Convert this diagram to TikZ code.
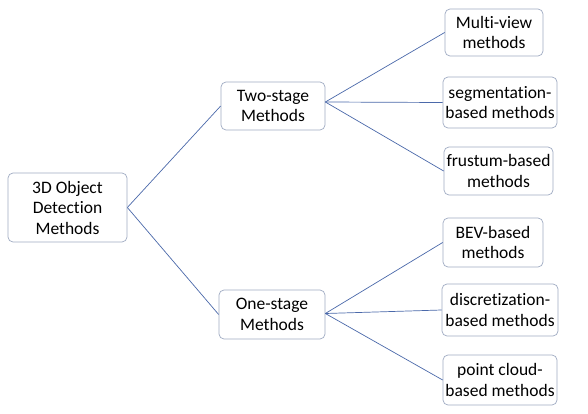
\documentclass[tikz,border=0pt]{standalone}
\usepackage{fontspec}
\setmainfont{Carlito}[Ligatures=NoCommon]
\begin{document}
\begin{tikzpicture}[x=1pt,y=-1pt,
  box/.style={draw={rgb,255:red,160;green,172;blue,195},line width=0.7pt,rounded corners=5pt,fill=white,
    align=center,inner sep=1pt,font=\fontsize{17.5}{20.5}\selectfont},
  link/.style={draw={rgb,255:red,75;green,105;blue,170},line width=0.7pt}]
\useasboundingbox (0,0) rectangle (588,414);
\fill[white] (0,0) rectangle (588,414);
\node[box,minimum width=119pt,minimum height=69pt] (root) at (67.5,207.5) {3D Object\\Detection\\Methods};
\node[box,minimum width=104pt,minimum height=48pt] (two) at (273,106) {Two-stage\\Methods};
\node[box,minimum width=106pt,minimum height=49pt] (one) at (272,314.5) {One-stage\\Methods};
\node[box,minimum width=98pt,minimum height=47pt] (mv) at (494,32.5) {Multi-view\\methods};
\node[box,minimum width=114pt,minimum height=51pt] (seg) at (500,102.5) {segmentation-\\based methods};
\node[box,minimum width=109pt,minimum height=48pt] (fru) at (498.5,171) {frustum-based\\methods};
\node[box,minimum width=100pt,minimum height=49pt] (bev) at (493,242.5) {BEV-based\\methods};
\node[box,minimum width=116pt,minimum height=52pt] (dis) at (500,310) {discretization-\\based methods};
\node[box,minimum width=114pt,minimum height=50pt] (pc) at (500,380) {point cloud-\\based methods};
\draw[link] (root.east) -- (two.west);
\draw[link] (root.east) -- (one.west);
\draw[link] ([yshift=4pt]two.east) -- (mv.west);
\draw[link] ([yshift=4pt]two.east) -- (seg.west);
\draw[link] ([yshift=4pt]two.east) -- (fru.west);
\draw[link] ([yshift=1pt]one.east) -- (bev.west);
\draw[link] ([yshift=1pt]one.east) -- (dis.west);
\draw[link] ([yshift=1pt]one.east) -- (pc.west);
\end{tikzpicture}
\end{document}
